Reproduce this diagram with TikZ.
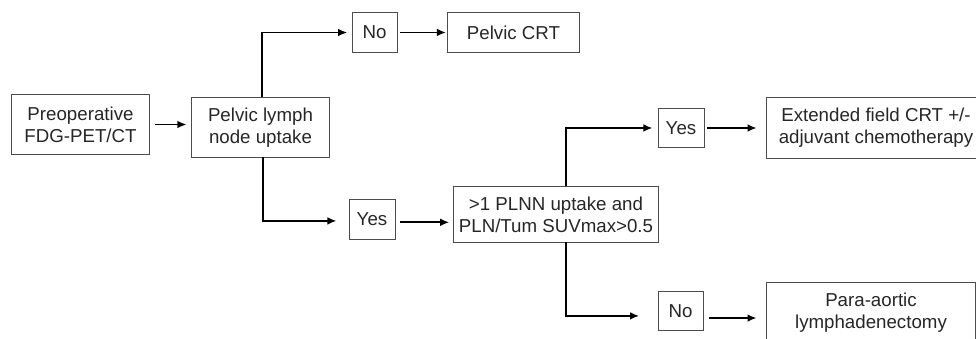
\documentclass[tikz,border=0pt]{standalone}
\usepackage{fontspec}
\setmainfont{Liberation Sans}
\usetikzlibrary{arrows.meta}

\begin{document}
\begin{tikzpicture}[x=0.025cm, y=-0.025cm,
    caixa/.style={
        rectangle, draw=black!70, line width=0.7pt,
        inner sep=1pt, align=center, text=black!85,
        font=\fontsize{13.3}{15.8}\selectfont
    },
    seta/.style={
        draw, line width=1.4pt, -{Latex[length=6.5pt,width=5.5pt]}
    }]
    \useasboundingbox (0,0) rectangle (976,339);

    \node [caixa, minimum width=3.425cm, minimum height=1.475cm] (pet)    at (80.5, 124.5) {Preoperative\\FDG-PET/CT};
    \node [caixa, minimum width=3.425cm, minimum height=1.475cm] (pelvic) at (260.5, 127.5) {Pelvic lymph\\node uptake};

    \node [caixa, minimum width=1.125cm, minimum height=0.975cm] (nao1) at (374.5, 32.5) {No};
    \node [caixa, minimum width=3.275cm, minimum height=0.975cm] (crt)  at (513.5, 32.5) {Pelvic CRT};

    \node [caixa, minimum width=1.15cm, minimum height=0.975cm] (sim1) at (372, 219.5) {Yes};
    \node [caixa, minimum width=5.1cm, minimum height=1.375cm]  (plnn) at (556, 214.5) {>1 PLNN uptake and\\PLN/Tum SUVmax>0.5};

    \node [caixa, minimum width=1.15cm, minimum height=0.95cm] (sim2) at (681, 128) {Yes};
    \node [caixa, minimum width=5.45cm, minimum height=1.5cm]  (ext)  at (876, 128) {Extended field CRT +/-\\adjuvant chemotherapy};

    \node [caixa, minimum width=1.125cm, minimum height=0.95cm] (nao2) at (680.5, 311) {No};
    \node [caixa, minimum width=5.2cm, minimum height=1.5cm]    (para) at (871, 313) {Para-aortic\\lymphadenectomy};

    \draw [seta, shorten <=4pt, shorten >=3.5pt] (pet.east) -- (pet.east -| pelvic.west);
    \draw [seta, shorten >=3pt] ([xshift=1pt]pelvic.north) |- (nao1.west);
    \draw [seta, shorten >=8.5pt] ([xshift=1.5pt]pelvic.south) |- ([yshift=-1pt]sim1.west);
    \draw [seta, shorten <=2pt, shorten >=1pt] (nao1.east) -- (crt.west);
    \draw [seta, shorten <=3pt, shorten >=3pt] ([yshift=-2pt]sim1.east) -- ([yshift=-2pt]sim1.east -| plnn.west);
    \draw [seta, shorten >=3.5pt] ([xshift=7pt]plnn.north) |- (sim2.west);
    \draw [seta, shorten <=2pt, shorten >=7pt] (sim2.east) -- (ext.west);
    \draw [seta, shorten >=13pt] ([xshift=7pt]plnn.south) |- ([yshift=-3.5pt]nao2.west);
    \draw [seta, shorten <=4pt, shorten >=7pt] ([yshift=-5pt]nao2.east) -- ([yshift=-5pt]nao2.east -| para.west);
\end{tikzpicture}
\end{document}
